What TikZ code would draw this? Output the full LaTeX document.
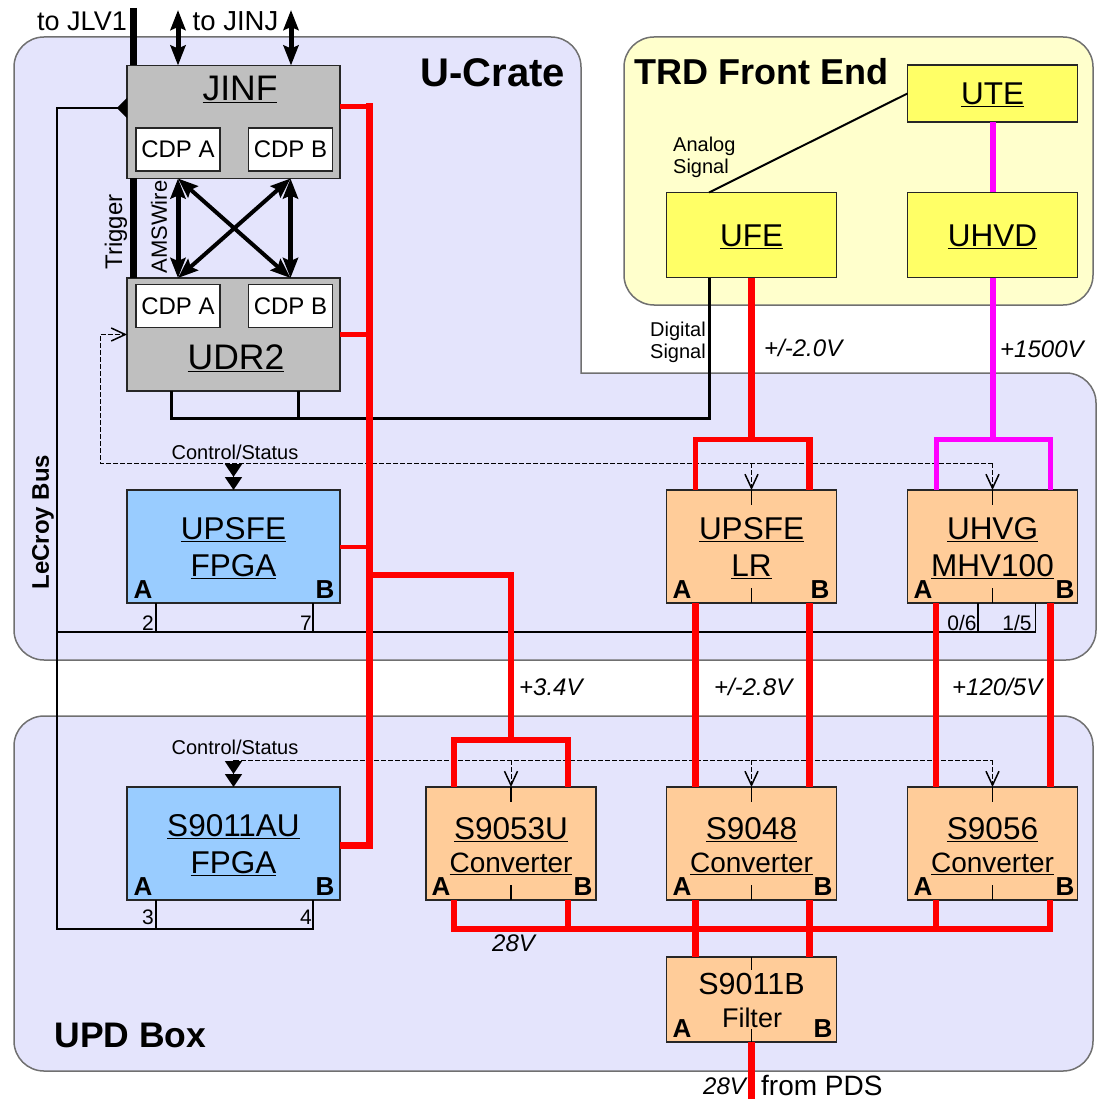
\documentclass[tikz,border=0pt]{standalone}
\usepackage{fontspec}
\setmainfont{Liberation Sans}
\usetikzlibrary{arrows.meta}
\definecolor{cratefill}{HTML}{E4E4FC}
\definecolor{frontfill}{HTML}{FFFFCC}
\definecolor{graybox}{HTML}{BFBFBF}
\definecolor{bluebox}{HTML}{99CCFF}
\definecolor{orangebox}{HTML}{FFCC99}
\definecolor{yellowbox}{HTML}{FFFF66}
\definecolor{edgegray}{HTML}{707070}
\definecolor{hvpink}{HTML}{FF00FF}
\newcommand{\headgap}{\rule{0pt}{25pt}}
\newcommand{\convgap}{\rule{0pt}{27pt}}
\tikzset{
    region/.style={draw=edgegray, fill=cratefill, line width=1.5pt},
    block/.style={draw=black!85, line width=1.5pt, inner sep=0pt, outer sep=0pt, minimum height=113pt, align=center, font=\fontsize{31.5}{37}\selectfont},
    wideblock/.style={block, minimum width=213pt},
    narrowblock/.style={block, minimum width=170pt, fill=orangebox},
    feblock/.style={block, minimum width=170pt, minimum height=85pt, fill=yellowbox},
    cdp/.style={draw=black!85, fill=white, line width=1.5pt, inner sep=0pt, outer sep=0pt, minimum width=84pt, minimum height=43pt, font=\fontsize{24}{28}\selectfont},
    pin/.style={inner sep=0pt, font=\fontsize{26}{28}\bfseries\selectfont},
    num/.style={inner sep=0pt, font=\fontsize{21}{23}\selectfont},
    volt/.style={inner sep=0pt, anchor=west, font=\fontsize{24}{26}\itshape\selectfont},
    small/.style={inner sep=0pt, align=left, font=\fontsize{20}{22}\selectfont},
    thin line/.style={black, line width=1.5pt},
    power/.style={red, line width=7pt},
    powermid/.style={red, line width=6pt},
    powerthin/.style={red, line width=5pt},
    hv/.style={hvpink, line width=6pt},
    hvthin/.style={hvpink, line width=5pt},
    link/.style={black, line width=5pt, {Stealth[length=20pt,width=15pt,inset=3pt]}-{Stealth[length=20pt,width=15pt,inset=3pt]}},
    ctrl/.style={black, line width=1pt, dash pattern=on 5pt off 2pt},
    ctrlopen/.style={ctrl, -{Straight Barb[length=14pt,width=13pt,line width=1.5pt]}},
    ctrlsolid/.style={black, line width=1.5pt, -{Triangle[length=13pt,width=17pt]Triangle[length=13pt,width=17pt]}},
}
\begin{document}
\begin{tikzpicture}[x=1pt, y=-1pt]
    \useasboundingbox (0,0) rectangle (1097,1099);

    % regions
    \draw[region, rounded corners=30pt] (300,37) -- (581,37) -- (581,120) [sharp corners] -- (581,373) -- (1000,373) [rounded corners=30pt] -- (1096,373) -- (1096,660) -- (14,660) -- (14,37) -- cycle;
    \draw[region, rounded corners=30pt] (14,716) rectangle (1093,1071);
    \draw[region, fill=frontfill, rounded corners=30pt] (624,37) rectangle (1093,305);

    % blocks
    \node[wideblock, fill=graybox] (jinf) at (233.5,122) {};
    \node[wideblock, fill=graybox] (udr) at (233.5,334.5) {};
    \node[wideblock, fill=bluebox] (upsfe) at (233.5,546.5) {\headgap\underline{UPSFE}\\\underline{FPGA}};
    \node[wideblock, fill=bluebox] (sau) at (233.5,843.5) {\headgap\underline{S9011AU}\\\underline{FPGA}};
    \node[narrowblock] (upsfelr) at (751.5,546.5) {\headgap\underline{UPSFE}\\\underline{LR}};
    \node[narrowblock] (uhvg) at (992.5,546.5) {\headgap\underline{UHVG}\\\underline{MHV100}};
    \node[narrowblock] (snu) at (511,843.5) {\convgap\underline{S9053U}\\[-4pt]\underline{\fontsize{28}{37}\selectfont Converter}};
    \node[narrowblock] (sne) at (751.5,843.5) {\convgap\underline{S9048}\\[-4pt]\underline{\fontsize{28}{37}\selectfont Converter}};
    \node[narrowblock] (sns) at (992.5,843.5) {\convgap\underline{S9056}\\[-4pt]\underline{\fontsize{28}{37}\selectfont Converter}};
    \node[narrowblock, minimum height=85pt] (filter) at (751.5,999.5) {};
    \node[feblock] (ufe) at (751.5,235) {\headgap\underline{UFE}};
    \node[feblock] (uhvd) at (992.5,235) {\headgap\underline{UHVD}};
    \node[feblock, minimum height=57pt] (ute) at (992.5,93.5) {\headgap\underline{UTE}};

    \node[cdp] (jinfa) at (178,149.5) {CDP A};
    \node[cdp] (jinfb) at (290.5,149.5) {CDP B};
    \node[cdp] (udra) at (178,306) {CDP A};
    \node[cdp] (udrb) at (290.5,306) {CDP B};

    \node[inner sep=0pt, font=\fontsize{35.5}{38}\selectfont] (jinftext) at (240,89) {\underline{JINF}};
    \node[inner sep=0pt, font=\fontsize{35.5}{38}\selectfont] (udrtext) at (236,358) {\underline{UDR2}};
    \node[inner sep=0pt, font=\fontsize{30.5}{33}\selectfont] (filtertop) at (751.5,984) {S9011B};
    \node[inner sep=0pt, font=\fontsize{27}{30}\selectfont] (filterlow) at (752,1018) {Filter};

    % columns for the power feeds
    \coordinate (buscol) at (369,575);
    \coordinate (snuA) at (454,740);
    \coordinate (snuB) at (568,740);
    \coordinate (lrA) at (695,439);
    \coordinate (lrB) at (809,439);
    \coordinate (hvA) at (936,439);
    \coordinate (hvB) at (1050,439);
    \coordinate (rail) at (454,929);
    \coordinate (railend) at (1050,929);
    \coordinate (snufeed) at (511,575);

    % thin signal lines
    \coordinate (busleft) at (57,632);
    \coordinate (busright) at (1035.5,632);
    \coordinate (bustwo) at (156,632);
    \coordinate (busseven) at (313,632);
    \coordinate (busnull) at (978,632);
    \coordinate (lowright) at (313,929);
    \coordinate (lowtwo) at (156,929);
    \coordinate (sigx) at (709,418);
    \coordinate (digone) at (171,418);
    \coordinate (digtwo) at (298,418);
    \coordinate (lecroy) at (57,108);
    \coordinate (lecroytip) at (127,108);

    \draw[thin line, -{Triangle[reversed,length=10pt,width=20pt]}] (lowright |- sau.south) -- (lowright) -- (lowright -| busleft) -- (lecroy) -- (lecroytip);
    \draw[thin line] (busleft) -- (busright) -- (busright |- uhvg.south);
    \draw[thin line] (bustwo) -- (bustwo |- upsfe.south);
    \draw[thin line] (busseven) -- (busseven |- upsfe.south);
    \draw[thin line] (busnull) -- (busnull |- uhvg.south);
    \draw[thin line] (lowtwo) -- (lowtwo |- sau.south);
    \draw[black, line width=3pt] (sigx |- ufe.south) -- (sigx) -- (digone) -- (digone |- udr.south);
    \draw[black, line width=3pt] (digtwo) -- (digtwo |- udr.south);
    \draw[black, line width=2pt] (ute.west) -- (sigx |- ufe.north);

    % control lines
    \coordinate (ctrlA) at (100,463);
    \coordinate (ctrlB) at (993,463);
    \coordinate (ctrlC) at (234,760);
    \coordinate (ctrlD) at (993,760);
    \draw[ctrlopen] (ctrlB) -- (ctrlA) -- (ctrlA |- udr.west) -- (udr.west);
    \draw[ctrl] (ctrlC) -- (ctrlD);
    \draw[ctrlsolid] (upsfe.north |- ctrlA) -- (upsfe.north);
    \draw[ctrlsolid] (sau.north |- ctrlC) -- (sau.north);
    \draw[ctrlopen] (upsfelr.north |- ctrlA) -- (upsfelr.north);
    \draw[ctrlopen] (uhvg.north |- ctrlA) -- (uhvg.north);
    \draw[ctrlopen] (snu.north |- ctrlC) -- (snu.north);
    \draw[ctrlopen] (sne.north |- ctrlC) -- (sne.north);
    \draw[ctrlopen] (sns.north |- ctrlC) -- (sns.north);

    % short stubs inside the blocks
    \foreach \blk in {upsfelr, uhvg, snu, sne, sns} {
        \draw[thin line] (\blk.north) -- ++(0,15);
        \draw[thin line] (\blk.south) -- ++(0,-15);
    }
    \draw[thin line] (filter.north) -- ++(0,13);
    \draw[thin line] (filter.south) -- ++(0,-13);

    % power
    \draw[powerthin] (jinf.east |- 0,107) -- (369,107);
    \draw[power] (369,103.5) -- (369,848.5);
    \draw[powerthin] (udr.east) -- (369,334.5);
    \draw[red, line width=4pt] (upsfe.east) -- (369,546.5);
    \draw[power] (sau.east |- 0,845) -- (369,845);
    \draw[powermid] (buscol) -- (snufeed) -- (snufeed |- snuA);
    \draw[powermid] (snu.north -| snuA) -- (snuA) -- (snuB) -- (snu.north -| snuB);

    \draw[power] (ufe.south) -- (ufe.south |- lrA);
    \draw[powerthin] (upsfelr.north -| lrA) -- (lrA) -- (lrB);
    \draw[power] (lrB) ++(0,-2) -- (upsfelr.north -| lrB);
    \draw[power] (upsfelr.south -| lrA) -- (sne.north -| lrA);
    \draw[power] (upsfelr.south -| lrB) -- (sne.north -| lrB);
    \draw[powermid] (uhvg.south -| hvA) -- (sns.north -| hvA);
    \draw[power] (uhvg.south -| hvB) -- (sns.north -| hvB);

    \draw[hv] (ute.south) -- (uhvd.north);
    \draw[hv] (uhvd.south) -- (uhvd.south |- hvA);
    \draw[hvthin] (uhvg.north -| hvA) -- (hvA) -- (hvB) -- (uhvg.north -| hvB);

    \draw[powermid] (snu.south -| rail) -- (rail) -- (railend) -- (sns.south -| railend);
    \draw[powermid] (snu.south -| snuB) -- (rail -| snuB);
    \draw[power] (sne.south -| lrA) -- (filter.north -| lrA);
    \draw[power] (sne.south -| lrB) -- (filter.north -| lrB);
    \draw[powermid] (sns.south -| hvA) -- (rail -| hvA);
    \coordinate (bottomend) at (751.5,1099);
    \draw[power] (filter.south) -- (bottomend);

    % bold links
    \coordinate (jlv) at (133,8);
    \coordinate (jinja) at (178,10);
    \coordinate (jinjb) at (291,10);
    \draw[black, line width=7pt] (jlv) -- (jlv |- jinf.north);
    \draw[black, line width=7pt] (jlv |- jinf.south) -- (jlv |- udr.north);
    \draw[link] (jinja) -- (jinja |- jinf.north);
    \draw[link] (jinjb) -- (jinjb |- jinf.north);
    \draw[link] (jinfa |- jinf.south) -- (udra |- udr.north);
    \draw[link] (jinfb |- jinf.south) -- (udrb |- udr.north);
    \draw[link, line width=4pt] (jinfa |- jinf.south) -- (udrb |- udr.north);
    \draw[link, line width=4pt] (jinfb |- jinf.south) -- (udra |- udr.north);

    % region titles
    \node[inner sep=0pt, font=\fontsize{40}{42}\bfseries\selectfont] (cratetitle) at (493,73) {U-Crate};
    \node[inner sep=0pt, font=\fontsize{36}{38}\bfseries\selectfont] (fronttitle) at (761.5,72) {TRD Front End};
    \node[inner sep=0pt, font=\fontsize{35.5}{37}\bfseries\selectfont] (updtitle) at (130.5,1035) {UPD Box};

    % labels
    \node[inner sep=0pt, font=\fontsize{27}{29}\selectfont] (tojlv) at (82,21) {to JLV1};
    \node[inner sep=0pt, font=\fontsize{27.5}{29}\selectfont] (tojinj) at (235.5,21) {to JINJ};
    \node[inner sep=0pt, rotate=90, font=\fontsize{24}{26}\selectfont] (trigger) at (116,232) {Trigger};
    \node[inner sep=0pt, rotate=90, font=\fontsize{22}{24}\selectfont] (amswire) at (159,227) {AMSWire};
    \node[inner sep=0pt, rotate=90, font=\fontsize{24}{26}\bfseries\selectfont] (lecroytext) at (43,522) {LeCroy Bus};
    \node[small] (ctrlupper) at (235,452) {Control/Status};
    \node[small] (ctrllower) at (235,747) {Control/Status};
    \node[small, anchor=west] (analog) at (673,157) {Analog\\Signal};
    \node[small, anchor=east, align=right] (digital) at (706,342.5) {Digital\\Signal};

    \node[volt] (vtwo) at (764,348) {+/-2.0V};
    \node[volt] (vhv) at (1000,349) {+1500V};
    \node[volt] (vthree) at (519,687) {+3.4V};
    \node[volt] (vlr) at (714,687) {+/-2.8V};
    \node[volt] (vhvg) at (952,687) {+120/5V};
    \node[volt] (vrail) at (492,943) {28V};
    \node[volt] (vpds) at (703,1086) {28V};
    \node[inner sep=0pt, anchor=west, font=\fontsize{28}{30}\selectfont] (frompds) at (761,1085) {from PDS};

    % pin labels
    \foreach \blk/\ax/\bx/\py in {upsfe/143/325/590, sau/143/325/887, upsfelr/682/820/590, uhvg/923/1065/590, snu/441/583/887, sne/682/823/887, sns/923/1065/887, filter/682/823/1029} {
        \node[pin] (\blk A) at (\ax,\py) {A};
        \node[pin] (\blk B) at (\bx,\py) {B};
    }

    \node[num] (pintwo) at (148,623) {2};
    \node[num] (pinseven) at (306,623) {7};
    \node[num] (pinthree) at (148,917) {3};
    \node[num] (pinfour) at (306,917) {4};
    \node[num] (pinnull) at (962,623) {0/6};
    \node[num] (pinone) at (1017,623) {1/5};
\end{tikzpicture}
\end{document}
